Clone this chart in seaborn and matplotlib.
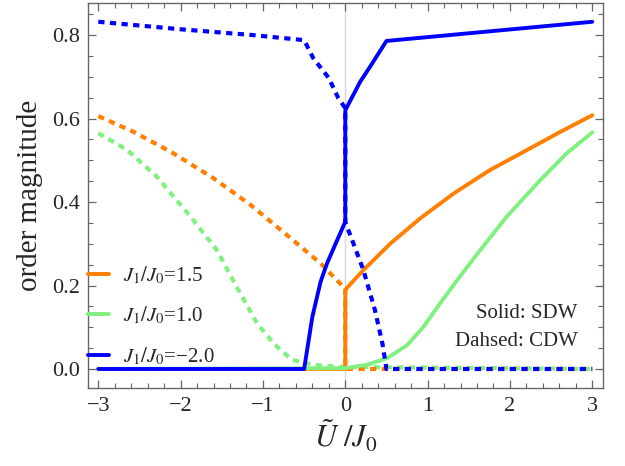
"""Order magnitude vs U/J0 for three J1/J0 values (SDW solid, CDW dashed)."""

import matplotlib
matplotlib.use("Agg")
import matplotlib.pyplot as plt
from matplotlib.ticker import MultipleLocator
import pandas as pd
import seaborn as sns

# --- data ---
orange_sdw_x = [-3.0, 0.0, 0.0, 0.22, 0.55, 0.91, 1.32, 1.76, 2.21, 2.61, 3.0]
orange_sdw_y = [0.0, 0.0, 0.19, 0.237, 0.301, 0.361, 0.421, 0.477, 0.525, 0.568, 0.608]
orange_cdw_x = [-3.0, -2.57, -2.09, -1.6, -1.15, -0.71, -0.30, 0.0, 0.0, 3.0]
orange_cdw_y = [0.606, 0.568, 0.517, 0.457, 0.393, 0.321, 0.253, 0.192, 0.0, 0.0]

green_sdw_x = [-3.0, 0.0, 0.26, 0.51, 0.75, 0.95, 1.15, 1.36, 1.60, 1.96, 2.37, 2.69, 3.0]
green_sdw_y = [0.0, 0.002, 0.01, 0.026, 0.057, 0.101, 0.157, 0.213, 0.275, 0.365, 0.453, 0.517, 0.567]
green_cdw_x = [-3.0, -2.65, -2.29, -1.88, -1.56, -1.32, -1.07, -0.87, -0.65, -0.39, -0.06, 3.0]
green_cdw_y = [0.565, 0.525, 0.461, 0.365, 0.285, 0.197, 0.109, 0.061, 0.022, 0.01, 0.005, 0.0]

blue_sdw_x = [-3.0, -0.5, -0.4, -0.3, -0.22, 0.0, 0.0, 0.18, 0.30, 0.5, 3.0]
blue_sdw_y = [0.0, 0.0, 0.125, 0.209, 0.254, 0.353, 0.62, 0.688, 0.724, 0.786, 0.832]
blue_cdw_x = [-3.0, -2.0, -1.12, -0.5, -0.39, -0.2, -0.085, 0.0, 0.0, 0.1, 0.22, 0.36, 0.45, 0.5, 3.0]
blue_cdw_y = [0.832, 0.814, 0.80, 0.788, 0.745, 0.697, 0.649, 0.625, 0.352, 0.30, 0.237, 0.141, 0.062, 0.0, 0.0]

labels = ["$J_1/J_0$=1.5", "$J_1/J_0$=1.0", "$J_1/J_0$=\u22122.0"]
colors = ["#FF7F00", "#80F080", "#0000FF"]

sns.set_style("ticks")
plt.rcParams["font.family"] = ["Liberation Serif", "DejaVu Serif"]
plt.rcParams["mathtext.fontset"] = "stix"

fig = plt.figure(figsize=(6.25, 4.66), dpi=100)
ax = fig.add_axes([0.1408, 0.167, 0.824, 0.8266])

ax.axvline(0, color="#d8d8d8", lw=1.0, zorder=0)

dash = (1.5, 1.3)
# dashed CDW curves first, solid SDW on top
for xs, ys, c in [(green_cdw_x, green_cdw_y, colors[1]),
                  (orange_cdw_x, orange_cdw_y, colors[0])]:
    df = pd.DataFrame({"x": xs, "y": ys})
    sns.lineplot(data=df, x="x", y="y", ax=ax, color=c, lw=3.0,
                 estimator=None, sort=False)
    ax.lines[-1].set_dashes(dash)

handles = []
for xs, ys, c in [(orange_sdw_x, orange_sdw_y, colors[0]),
                  (green_sdw_x, green_sdw_y, colors[1]),
                  (blue_sdw_x, blue_sdw_y, colors[2])]:
    df = pd.DataFrame({"x": xs, "y": ys})
    sns.lineplot(data=df, x="x", y="y", ax=ax, color=c, lw=2.8,
                 estimator=None, sort=False)
    handles.append(ax.lines[-1])

df = pd.DataFrame({"x": blue_cdw_x, "y": blue_cdw_y})
sns.lineplot(data=df, x="x", y="y", ax=ax, color=colors[2], lw=3.0,
             estimator=None, sort=False)
ax.lines[-1].set_dashes(dash)

ax.set_xlim(-3.125, 3.13)
ax.set_ylim(-0.046, 0.877)
ax.xaxis.set_major_locator(MultipleLocator(1))
ax.xaxis.set_minor_locator(MultipleLocator(0.2))
ax.yaxis.set_major_locator(MultipleLocator(0.2))
ax.yaxis.set_minor_locator(MultipleLocator(0.05))
ax.yaxis.set_major_formatter(plt.FuncFormatter(lambda v, p: f"{v:.1f}"))
ax.tick_params(which="both", direction="in", top=True, right=True,
               color="#666666", labelsize=16, pad=6)
ax.tick_params(which="major", length=6, width=0.9)
ax.tick_params(which="minor", length=3.5, width=0.8)
for s in ax.spines.values():
    s.set_color("#666666")
    s.set_linewidth(1.0)

ax.set_xlabel(r"$\tilde{U}\ /J_0$", fontsize=22, labelpad=2)
ax.set_ylabel("order magnitude", fontsize=21, labelpad=6)

ax.legend(handles, labels, loc="lower left", bbox_to_anchor=(0.0, 0.055),
          frameon=False, fontsize=15, borderpad=0, borderaxespad=0,
          handlelength=1.0, handletextpad=0.7, labelspacing=0.9)

ax.text(0.951, 0.195, "Solid: SDW", transform=ax.transAxes, ha="right",
        va="center", fontsize=15)
ax.text(0.951, 0.12, "Dahsed: CDW", transform=ax.transAxes, ha="right",
        va="center", fontsize=15)

fig.savefig("out.png", dpi=100)
